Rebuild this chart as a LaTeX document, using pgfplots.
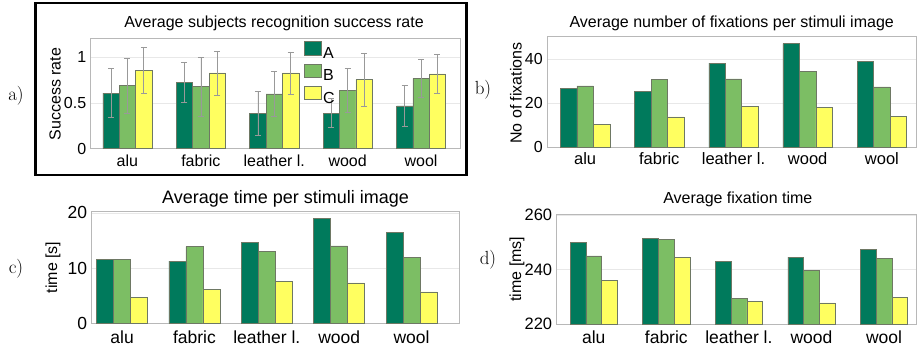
\documentclass[border=0pt]{standalone}
\usepackage{pgfplots}
\pgfplotsset{compat=1.18}
\usepackage{fontspec}
\setsansfont{Liberation Sans}
\definecolor{cA}{RGB}{0,122,92}
\definecolor{cB}{RGB}{124,190,100}
\definecolor{cC}{RGB}{255,255,96}
\definecolor{edge}{RGB}{110,120,100}
\newcommand{\fs}[1]{\fontsize{#1}{#1}\selectfont}
\pgfplotsset{
  base/.style={
    scale only axis, anchor=south west,
    axis line style={black!28, line width=0.8pt},
    major tick length=0pt,
    ymajorgrids, grid style={black!9, line width=0.6pt},
    xtick={0,1,2,3,4},
    xticklabels={alu,fabric,leather l.,wood,wool},
    /pgf/number format/assume math mode=true,
    clip=true,
  },
  bA/.style={ybar, fill=cA, draw=edge, line width=0.5pt},
  bB/.style={ybar, fill=cB, draw=edge, line width=0.5pt},
  bC/.style={ybar, fill=cC, draw=edge, line width=0.5pt},
  eb/.style={error bars/.cd, y dir=both, y explicit,
    error bar style={black!40, line width=0.6pt},
    error mark options={black!40, line width=0.6pt, mark size=3pt, rotate=90}},
}
\begin{document}
\begin{tikzpicture}[x=1pt,y=1pt]
\useasboundingbox (0,0) rectangle (923,346);
% frame of panel a
\draw[line width=2.2pt] (35.5,171) rectangle (466.5,343);
% panel labels
\node[font=\fs{19}] at (16,250) {a)};
\node[font=\fs{19}] at (483,256) {b)};
\node[font=\fs{19}] at (16,77) {c)};
\node[font=\fs{19}] at (488,86) {d)};
% titles
\node[font=\sffamily\fs{16}, anchor=base] at (274,318) {Average subjects recognition success rate};
\node[font=\sffamily\fs{16}, anchor=base] at (731.7,318.5) {Average number of fixations per stimuli image};
\node[font=\sffamily\fs{18}, anchor=base] at (285.5,142.7) {Average time per stimuli image};
\node[font=\sffamily\fs{16}, anchor=base] at (737.8,142.7) {Average fixation time};
% y labels
\node[font=\sffamily\fs{16}, rotate=90] at (55,252) {Success rate};
\node[font=\sffamily\fs{16}, rotate=90] at (516,253) {No of fixations};
\node[font=\sffamily\fs{16}, rotate=90] at (53,78.5) {time [s]};
\node[font=\sffamily\fs{16}, rotate=90] at (517,77) {time [ms]};

% ---------- panel a
\begin{axis}[base, at={(90.7pt,197.3pt)}, width=369.3pt, height=110.4pt,
  xmin=-0.5, xmax=4.53, ymin=0, ymax=1.21,
  ytick={0,0.5,1}, yticklabels={0,0.5,1},
  yticklabel style={font=\sffamily\fs{16}, xshift=-1pt},
  xticklabel style={font=\sffamily\fs{16}, anchor=base, yshift=-17.5pt},
  legend style={draw=none, fill=none, at={(0.5776,0.975)}, anchor=north west,
    inner sep=0pt, font=\sffamily\fs{16}, row sep=2pt,
    nodes={inner sep=1.5pt, text height=11.5pt, text depth=1.5pt}},
  legend cell align=left,
]
\addlegendimage{legend image code/.code={\draw[fill=cA, draw=edge, line width=0.5pt] (0pt,-1.5pt) rectangle (17pt,12pt);}}
\addlegendentry{A}
\addlegendimage{legend image code/.code={\draw[fill=cB, draw=edge, line width=0.5pt] (0pt,-1.5pt) rectangle (17pt,12pt);}}
\addlegendentry{B}
\addlegendimage{legend image code/.code={\draw[fill=cC, draw=edge, line width=0.5pt] (0pt,-1.5pt) rectangle (17pt,12pt);}}
\addlegendentry{C}
\addplot[bA, bar width=0.223, bar shift=0pt, forget plot, eb] coordinates {
 (-0.223,0.61) +- (0,0.27) (0.777,0.73) +- (0,0.22) (1.777,0.39) +- (0,0.24) (2.777,0.39) +- (0,0.16) (3.777,0.47) +- (0,0.22)};
\addplot[bB, bar width=0.223, bar shift=0pt, forget plot, eb] coordinates {
 (0,0.69) +- (0,0.30) (1,0.68) +- (0,0.32) (2,0.60) +- (0,0.245) (3,0.64) +- (0,0.24) (4,0.77) +- (0,0.205)};
\addplot[bC, bar width=0.223, bar shift=0pt, forget plot, eb] coordinates {
 (0.223,0.86) +- (0,0.25) (1.223,0.83) +- (0,0.24) (2.223,0.83) +- (0,0.23) (3.223,0.76) +- (0,0.29) (4.223,0.82) +- (0,0.21)};
\end{axis}

% ---------- panel b
\begin{axis}[base, at={(547.3pt,198.7pt)}, width=368.7pt, height=110.6pt,
  xmin=-0.51, xmax=4.46, ymin=0, ymax=50.3,
  ytick={0,20,40}, yticklabels={0,20,40},
  yticklabel style={font=\sffamily\fs{16}, xshift=-1pt},
  xticklabel style={font=\sffamily\fs{16.5}, anchor=base, yshift=-17.5pt},
]
\addplot[bA, bar width=0.222, bar shift=-0.222] coordinates {(0,26.9) (1,25.3) (2,38.3) (3,47.2) (4,39.2)};
\addplot[bB, bar width=0.222, bar shift=0] coordinates {(0,27.9) (1,31.0) (2,31.1) (3,34.4) (4,27.5)};
\addplot[bC, bar width=0.222, bar shift=0.222] coordinates {(0,10.3) (1,13.8) (2,18.6) (3,18.0) (4,14.0)};
\end{axis}

% ---------- panel c
\begin{axis}[base, at={(91.7pt,22.7pt)}, width=367.6pt, height=111.6pt,
  xmin=-0.42, xmax=4.66, ymin=0, ymax=20.2,
  ytick={0,10,20}, yticklabels={0,10,20},
  yticklabel style={font=\sffamily\fs{17.5}, xshift=-1pt},
  xticklabel style={font=\sffamily\fs{17.5}, anchor=base, yshift=-20pt},
]
\addplot[bA, bar width=0.235, bar shift=-0.235] coordinates {(0,11.55) (1,11.25) (2,14.7) (3,19.0) (4,16.4)};
\addplot[bB, bar width=0.235, bar shift=0] coordinates {(0,11.55) (1,13.9) (2,13.0) (3,14.0) (4,11.9)};
\addplot[bC, bar width=0.235, bar shift=0.235] coordinates {(0,4.7) (1,6.2) (2,7.65) (3,7.3) (4,5.7)};
\end{axis}

% ---------- panel d
\begin{axis}[base, at={(556.7pt,22pt)}, width=359.3pt, height=110pt,
  xmin=-0.51, xmax=4.44, ymin=220, ymax=260.4,
  ytick={220,240,260}, yticklabels={220,240,260},
  yticklabel style={font=\sffamily\fs{16.5}, xshift=-1pt},
  xticklabel style={font=\sffamily\fs{17.5}, anchor=base, yshift=-19.3pt},
]
\addplot[bA, bar width=0.217, bar shift=-0.217] coordinates {(0,249.9) (1,251.5) (2,243.0) (3,244.6) (4,247.5)};
\addplot[bB, bar width=0.217, bar shift=0] coordinates {(0,245.0) (1,251.1) (2,229.3) (3,239.6) (4,244.1)};
\addplot[bC, bar width=0.217, bar shift=0.217] coordinates {(0,236.0) (1,244.6) (2,228.4) (3,227.8) (4,229.8)};
\end{axis}
\end{tikzpicture}
\end{document}
